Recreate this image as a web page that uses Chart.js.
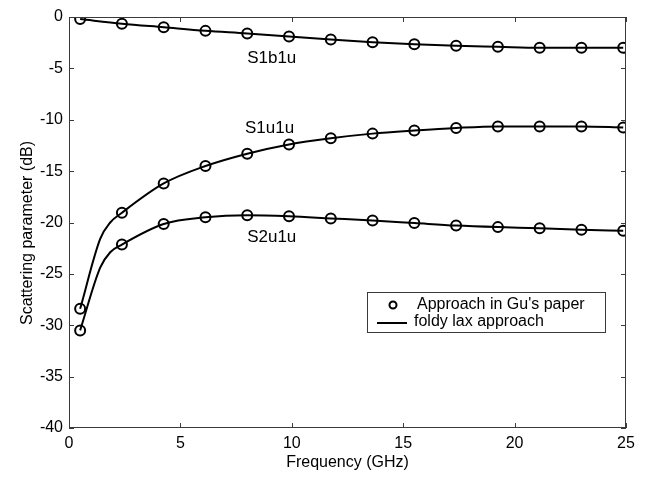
<!DOCTYPE html>
<html>
<head>
<meta charset="utf-8">
<script src="https://cdn.jsdelivr.net/npm/chart.js@4.4.1/dist/chart.umd.min.js"></script>
<style>
  html, body { margin: 0; padding: 0; background: #fff; }
  #wrap { width: 654px; height: 479px; }
</style>
</head>
<body>
<div id="wrap"><canvas id="sparamChart" width="654" height="479"></canvas></div>
<script>
// frequencies of the circle samples (GHz)
const freq = [0.5, 2.375, 4.25, 6.125, 8.0, 9.875, 11.75, 13.625, 15.5, 17.375, 19.25, 21.125, 23.0, 24.875];
const s1b1u = [-0.2, -0.65, -1.0, -1.35, -1.6, -1.9, -2.2, -2.45, -2.65, -2.8, -2.9, -3.0, -3.0, -3.0];
const s1u1u = [-28.4, -19.05, -16.2, -14.5, -13.3, -12.4, -11.8, -11.35, -11.05, -10.8, -10.65, -10.65, -10.65, -10.75];
const s2u1u = [-30.5, -22.15, -20.15, -19.5, -19.3, -19.4, -19.6, -19.8, -20.05, -20.3, -20.45, -20.55, -20.7, -20.8];
const bendFreq = [1.4, 1.85];
const s1u1uBend = [-21.6, -20.0];
const s2u1uBend = [-24.4, -22.9];

const xTicks = [0, 5, 10, 15, 20, 25];
const yTicks = [0, -5, -10, -15, -20, -25, -30, -35, -40];
const curveNames = ["S1b1u", "S1u1u", "S2u1u"];
const legendLabels = ["Approach in Gu's paper", "foldy lax approach"];

const FONT = "Liberation Sans, Arial, sans-serif";
const INK = "#000";
const AXIS = "#3a3a3a";

const toPoints = (xs, ys) => xs.map((x, i) => ({ x: x, y: ys[i] }));
const withBend = (ys, extra) =>
    toPoints([freq[0], ...bendFreq, ...freq.slice(1)], [ys[0], ...extra, ...ys.slice(1)]);

const lineStyle = {
    showLine: true,
    borderColor: INK,
    borderWidth: 2,
    pointRadius: 0,
    cubicInterpolationMode: "monotone",
    fill: false,
};
const circleStyle = {
    showLine: false,
    pointStyle: "circle",
    pointRadius: 5,
    pointBorderWidth: 2,
    pointBorderColor: INK,
    pointBackgroundColor: "rgba(0,0,0,0)",
};

// where the curve names sit, in data units
const nameSpots = [
    { x: 9.1, y: -4.0 },
    { x: 9.0, y: -10.8 },
    { x: 9.1, y: -21.45 },
];

const frame = {
    id: "frame",
    afterDraw(chart) {
        const { ctx, chartArea: a, scales } = chart;
        const xs = scales.x, ys = scales.y;
        ctx.save();
        ctx.strokeStyle = AXIS;
        ctx.lineWidth = 1;
        ctx.strokeRect(a.left + 0.5, a.top + 0.5, a.right - a.left - 1, a.bottom - a.top - 1);
        ctx.beginPath();
        xTicks.forEach((v) => {
            const px = Math.round(xs.getPixelForValue(v)) + 0.5;
            ctx.moveTo(px, a.bottom); ctx.lineTo(px, a.bottom - 5);
            ctx.moveTo(px, a.top); ctx.lineTo(px, a.top + 5);
        });
        yTicks.forEach((v) => {
            const py = Math.round(ys.getPixelForValue(v)) + 0.5;
            ctx.moveTo(a.left, py); ctx.lineTo(a.left + 5, py);
            ctx.moveTo(a.right, py); ctx.lineTo(a.right - 5, py);
        });
        ctx.stroke();

        // curve names
        ctx.fillStyle = INK;
        ctx.font = "17px " + FONT;
        ctx.textAlign = "center";
        ctx.textBaseline = "middle";
        curveNames.forEach((name, i) => {
            ctx.fillText(name, xs.getPixelForValue(nameSpots[i].x), ys.getPixelForValue(nameSpots[i].y));
        });

        // y axis title
        ctx.save();
        ctx.translate(28, 233);
        ctx.rotate(-Math.PI / 2);
        ctx.font = "16px " + FONT;
        ctx.fillText("Scattering parameter (dB)", 0, 0);
        ctx.restore();

        // legend box
        const lx = a.left + 298, ly = a.top + 275, lw = 238, lh = 40;
        ctx.fillStyle = "#fff";
        ctx.fillRect(lx, ly, lw, lh);
        ctx.strokeStyle = AXIS;
        ctx.strokeRect(lx + 0.5, ly + 0.5, lw, lh);
        ctx.strokeStyle = INK;
        ctx.lineWidth = 2;
        ctx.beginPath();
        ctx.arc(lx + 26, ly + 13, 3.5, 0, Math.PI * 2);
        ctx.stroke();
        ctx.beginPath();
        ctx.moveTo(lx + 10, ly + 31); ctx.lineTo(lx + 40, ly + 31);
        ctx.stroke();
        ctx.fillStyle = INK;
        ctx.font = "16px " + FONT;
        ctx.textAlign = "left";
        ctx.fillText(legendLabels[0], lx + 50, ly + 13);
        ctx.fillText(legendLabels[1], lx + 47, ly + 30);
        ctx.restore();
    },
};

const ctx = document.getElementById("sparamChart").getContext("2d");
new Chart(ctx, {
    type: "scatter",
    data: {
        datasets: [
            { label: "S1b1u line", data: toPoints(freq, s1b1u), ...lineStyle },
            { label: "S1u1u line", data: withBend(s1u1u, s1u1uBend), ...lineStyle },
            { label: "S2u1u line", data: withBend(s2u1u, s2u1uBend), ...lineStyle },
            { label: "S1b1u", data: toPoints(freq, s1b1u), ...circleStyle },
            { label: "S1u1u", data: toPoints(freq, s1u1u), ...circleStyle },
            { label: "S2u1u", data: toPoints(freq, s2u1u), ...circleStyle },
        ],
    },
    options: {
        responsive: false,
        animation: false,
        layout: {
            padding: { top: 17, right: 28, left: 0, bottom: 0 },
        },
        scales: {
            x: {
                type: "linear",
                min: 0,
                max: 25,
                afterFit: (s) => { s.height = 51; },
                grid: { display: false, drawTicks: false },
                border: { display: false },
                ticks: {
                    stepSize: 5,
                    padding: 6,
                    color: INK,
                    font: { family: FONT, size: 16 },
                    maxRotation: 0,
                },
                title: {
                    display: true,
                    text: "Frequency (GHz)",
                    color: INK,
                    font: { family: FONT, size: 16 },
                    padding: { top: 0, bottom: 7 },
                },
            },
            y: {
                min: -40,
                max: 0,
                afterFit: (s) => { s.width = 69; },
                grid: { display: false, drawTicks: false },
                border: { display: false },
                ticks: {
                    stepSize: 5,
                    padding: 6,
                    color: INK,
                    font: { family: FONT, size: 16 },
                },
            },
        },
        plugins: {
            legend: { display: false },
            tooltip: { enabled: false },
        },
    },
    plugins: [frame],
});
</script>
</body>
</html>
